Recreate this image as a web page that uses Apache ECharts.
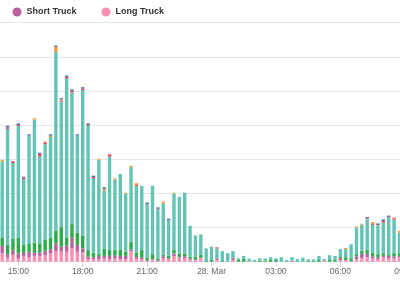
<!DOCTYPE html>
<html><head><meta charset="utf-8">
<script src="https://cdn.jsdelivr.net/npm/echarts@6/dist/echarts.min.js"></script>
<style>html,body{margin:0;padding:0;background:#fff}#c{width:400px;height:284px}</style>
</head><body><div id="c"></div>
<script>
var times = ["14:15","14:30","14:45","15:00","15:15","15:30","15:45","16:00","16:15","16:30","16:45","17:00","17:15","17:30","17:45","18:00","18:15","18:30","18:45","19:00","19:15","19:30","19:45","20:00","20:15","20:30","20:45","21:00","21:15","21:30","21:45","22:00","22:15","22:30","22:45","23:00","23:15","23:30","23:45",
"00:00","00:15","00:30","00:45","01:00","01:15","01:30","01:45","02:00","02:15","02:30","02:45","03:00","03:15","03:30","03:45","04:00","04:15","04:30","04:45","05:00","05:15","05:30","05:45","06:00","06:15","06:30","06:45","07:00","07:15","07:30","07:45","08:00","08:15","08:30","08:45"];
var longTruck  = [25,12,20,9,17,13,17,17,19,24,31,29,29,40,29,27,7,7,8,10,8,10,8,8,30,10,8,2,6,2,10,8,16,12,10,6,4,10,0,0,5,0,0,5,0,0,1,0,0,0,0,0,0,0,0,0,0,0,0,0,2,0,0,5,5,2,7,10,13,10,7,13,10,10,13];
var shortTruck = [21,10,14,15,9,16,9,9,12,12,23,15,18,30,20,12,8,6,9,7,9,9,9,9,6,4,4,2,2,2,6,2,8,2,6,4,2,3,0,0,4,0,0,5,0,0,1,0,0,0,0,0,0,0,3,0,0,0,0,0,2,0,0,5,0,0,8,13,10,5,6,4,7,5,4];
var green      = [25,27,34,47,23,23,30,26,33,35,37,57,24,40,36,38,19,13,7,21,17,15,19,12,23,12,22,8,14,4,4,8,12,10,8,4,9,7,2,5,0,2,0,0,5,9,0,0,3,3,7,5,0,0,0,0,0,3,3,5,0,5,5,5,8,8,7,9,12,12,9,8,3,10,8];
var teal       = [223,340,221,326,193,317,360,257,280,294,523,368,466,386,284,426,364,218,274,171,274,206,221,171,218,195,188,156,200,145,151,103,164,166,178,91,62,60,37,39,30,29,25,21,5,8,7,5,7,7,6,5,13,5,10,8,12,4,4,12,4,14,12,22,24,41,78,77,89,81,83,90,108,98,60];
var red        = [0,4,5,3,4,0,0,6,5,0,0,3,4,5,0,4,2,4,0,0,6,0,0,0,0,3,0,0,0,2,0,0,0,0,0,0,0,0,0,0,3,0,0,0,0,0,0,0,0,0,0,0,0,0,0,0,0,0,0,0,0,0,0,0,0,0,0,0,0,4,0,4,0,4,0];
var orange     = [4,0,0,0,0,0,4,0,3,4,15,3,0,0,0,0,0,0,3,4,0,4,0,2,4,6,0,0,0,0,5,0,2,0,0,0,0,0,0,0,0,0,0,0,0,0,0,0,0,0,0,0,0,0,0,0,0,0,0,0,0,0,0,0,3,0,3,2,2,4,2,0,2,3,5];
var blue       = [0,5,0,5,3,4,0,4,0,4,4,4,4,4,4,4,5,4,0,5,0,0,0,0,0,0,0,5,0,4,0,5,0,0,0,0,0,0,0,0,0,0,0,0,0,0,0,0,0,0,0,0,0,0,0,0,0,0,0,0,0,0,0,0,0,0,0,0,5,0,5,5,5,0,0];

// x positions in minutes since 27 Mar 00:00
function toMin(t, i){
  var p = t.split(':'); var m = (+p[0]) * 60 + (+p[1]);
  if (i >= 39) m += 1440;
  return m;
}
function rows(arr){ return arr.map(function(v,i){ return [v, toMin(times[i], i)]; }); }
function fmt(v){
  var h = Math.round(v / 60);
  if (h === 24) return '28. Mar';
  h = h % 24; return (h < 10 ? '0' + h : '' + h) + ':00';
}
var FONT = '"Liberation Sans", Arial, sans-serif';
var defs = [
  ['Long Truck', longTruck, '#fc8fb0'],
  ['Short Truck', shortTruck, '#b8629f'],
  ['Bus', green, '#2eac4b'],
  ['Car', teal, '#63c4b5'],
  ['Motorcycle', red, '#ec3a50'],
  ['Van', orange, '#fd9a3a'],
  ['Other', blue, '#5476a9']
];
var series = defs.map(function(d){
  return { name: d[0], type: 'bar', stack: 'all', data: rows(d[1]), barWidth: 3.4,
    dimensions: [{ name: 'v', type: 'float' }, { name: 't', type: 'time' }],
    encode: { x: 't', y: 'v' },
    itemStyle: { color: d[2] }, emphasis: { disabled: true } };
});
var chart = echarts.init(document.getElementById('c'), null, { renderer: 'canvas' });
chart.setOption({
  animation: false,
  backgroundColor: '#fff',
  legend: {
    data: ['Short Truck', 'Long Truck'], left: 12.5, top: 7.5, padding: 0, icon: 'circle',
    itemWidth: 9, itemHeight: 9, itemGap: 25,
    textStyle: { fontFamily: FONT, fontSize: 9, fontWeight: 'bold', color: '#333' }
  },
  grid: { left: -46.1, right: -69.2, top: 22.6, bottom: 22.3, containLabel: false, outerBoundsMode: 'none' },
  xAxis: {
    type: 'value', min: 720, max: 2160, interval: 180,
    axisLine: { lineStyle: { color: '#ccd6eb' } },
    axisTick: { length: 5, lineStyle: { color: '#ccd6eb' } },
    splitLine: { show: false },
    axisLabel: { formatter: fmt, color: '#666', fontSize: 8.5, margin: 5, fontFamily: FONT }
  },
  yAxis: {
    type: 'value', min: 0, max: 700, interval: 100,
    axisLabel: { show: false }, axisLine: { show: false }, axisTick: { show: false },
    splitLine: { lineStyle: { color: '#e6e6e6' } }
  },
  series: series
});
</script></body></html>
